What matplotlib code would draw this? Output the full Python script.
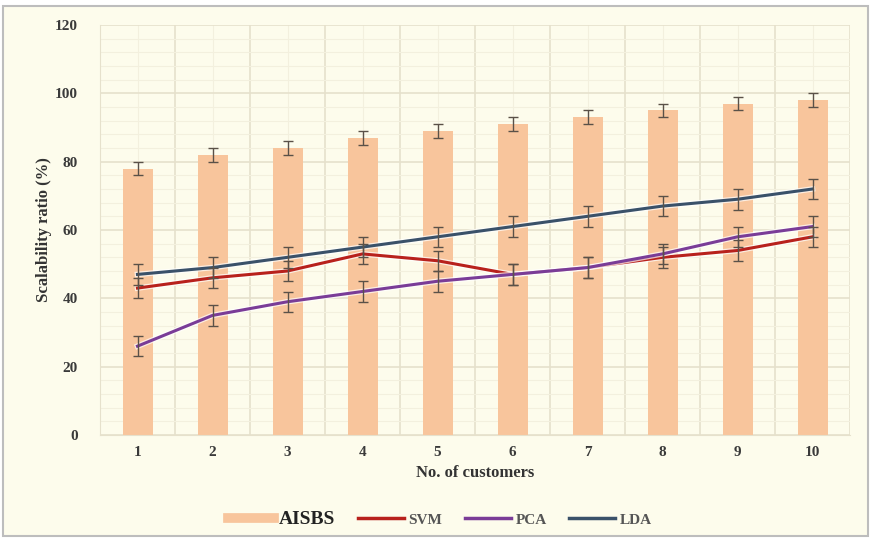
import matplotlib.pyplot as plt
import matplotlib.patheffects as pe
from matplotlib.lines import Line2D
from matplotlib.patches import Rectangle
from matplotlib.ticker import MultipleLocator
import numpy as np

customers = [1, 2, 3, 4, 5, 6, 7, 8, 9, 10]
aisbs = [78, 82, 84, 87, 89, 91, 93, 95, 97, 98]
aisbs_err = [2, 2, 2, 2, 2, 2, 2, 2, 2, 2]
svm = [43, 46, 48, 53, 51, 47, 49, 52, 54, 58]
pca = [26, 35, 39, 42, 45, 47, 49, 53, 58, 61]
lda = [47, 49, 52, 55, 58, 61, 64, 67, 69, 72]
line_err = [3, 3, 3, 3, 3, 3, 3, 3, 3, 3]

bg = '#fdfcec'
bar_col = '#f8c59c'
svm_col = '#b8211c'
pca_col = '#7a3c97'
lda_col = '#3a5169'
err_col = '#5a5148'

plt.rcParams['font.family'] = ['Liberation Serif', 'DejaVu Serif']
plt.rcParams['font.weight'] = 'bold'

fig = plt.figure(figsize=(8.71, 5.40), dpi=100)
fig.patch.set_facecolor('white')
# cream chart area with a grey frame
fig.patches.append(Rectangle((3 / 871, 4 / 540), 865 / 871, 530 / 540, transform=fig.transFigure,
                             facecolor=bg, edgecolor='#bdbdbd', linewidth=1.5, zorder=-1))

ax = fig.add_axes([100 / 871, 105 / 540, 750 / 871, 410 / 540])
ax.set_facecolor(bg)

x = np.arange(len(customers))
ax.bar(x, aisbs, width=0.4, color=bar_col, zorder=2)
ax.errorbar(x, aisbs, yerr=aisbs_err, fmt='none', ecolor=err_col, elinewidth=1, capsize=3.5, zorder=3)

halo = [pe.Stroke(linewidth=4, foreground='white', alpha=0.7), pe.Normal()]
for vals, col in [(svm, svm_col), (pca, pca_col), (lda, lda_col)]:
    ax.plot(x, vals, color=col, linewidth=2.2, zorder=4, path_effects=halo)
    ax.errorbar(x, vals, yerr=line_err, fmt='none', ecolor=err_col, elinewidth=1, capsize=3.5, zorder=5)

ax.set_xlim(-0.5, len(customers) - 0.5)
ax.set_ylim(0, 120)
ax.set_xticks(x)
ax.set_xticklabels([str(c) for c in customers])
ax.yaxis.set_major_locator(MultipleLocator(20))
ax.yaxis.set_minor_locator(MultipleLocator(4))
ax.set_xticks(np.arange(-0.5, len(customers), 1.0), minor=True)

ax.grid(which='major', axis='y', color='#e6e1cc', linewidth=1.2, zorder=0)
ax.grid(which='minor', axis='y', color='#f3f0de', linewidth=0.8, zorder=0)
ax.grid(which='minor', axis='x', color='#e6e1cc', linewidth=1.2, zorder=0)
ax.grid(which='major', axis='x', color='#f3f0de', linewidth=0.8, zorder=0)
ax.set_axisbelow(True)

for s in ax.spines.values():
    s.set_visible(False)
ax.spines['left'].set_visible(True)
ax.spines['left'].set_color('#e6e1cc')
ax.spines['bottom'].set_visible(True)
ax.spines['bottom'].set_color('#e6e1cc')

ax.tick_params(which='both', length=0, labelsize=11, labelcolor='#3a3a3a')
ax.tick_params(axis='x', pad=8)
ax.tick_params(axis='y', pad=16)

ax.set_ylabel('Scalability ratio (%)', fontsize=12, fontweight='bold', color='#333333', labelpad=2)
ax.set_xlabel('No. of customers', fontsize=12, fontweight='bold', color='#333333', labelpad=4)

handles = [
    Line2D([], [], color=bar_col, linewidth=7),
    Line2D([], [], color=svm_col, linewidth=2.5),
    Line2D([], [], color=pca_col, linewidth=2.5),
    Line2D([], [], color=lda_col, linewidth=2.5),
]
leg = fig.legend(handles, ['AISBS', 'SVM', 'PCA', 'LDA'], loc='center', bbox_to_anchor=(440 / 871, 21 / 540),
                 ncol=4, frameon=False, handlelength=3, handletextpad=0.3, columnspacing=1.5,
                 prop={'size': 11, 'weight': 'bold'})
texts = leg.get_texts()
texts[0].set_fontsize(14)
texts[0].set_color('#222222')
for t in texts[1:]:
    t.set_color('#555555')

fig.savefig('out.png', dpi=100, facecolor=fig.get_facecolor())
